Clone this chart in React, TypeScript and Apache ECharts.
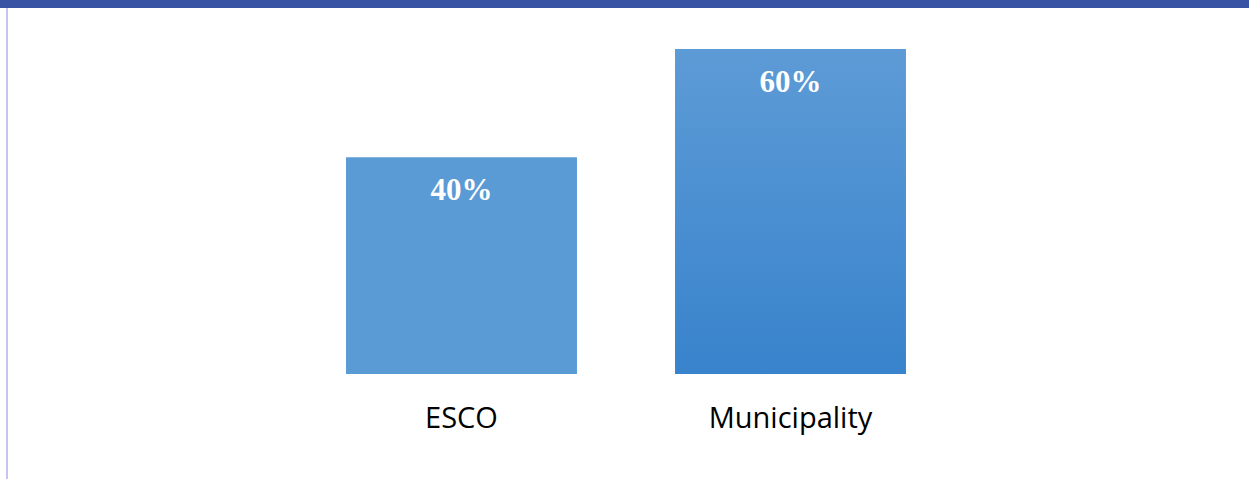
import React, { useEffect, useRef } from "react";
import * as echarts from "echarts";

const categories = ["ESCO", "Municipality"];
const values = [40, 60];

export default function App() {
  const ref = useRef<HTMLDivElement>(null);
  useEffect(() => {
    if (!ref.current) return;
    const chart = echarts.init(ref.current, null, { renderer: "svg" });
    const colors = [
      "#5b9bd5",
      new echarts.graphic.LinearGradient(0, 0, 0, 1, [
        { offset: 0, color: "#5d9bd6" },
        { offset: 1, color: "#3883cc" },
      ]),
    ];
    chart.setOption({
      animation: false,
      backgroundColor: "#ffffff",
      graphic: [
        { type: "rect", left: 0, top: 0, shape: { width: 1249, height: 8 }, style: { fill: "#3953a4" } },
        { type: "rect", left: 6, top: 8, shape: { width: 2, height: 471 }, style: { fill: "#c5c5ee" } },
      ],
      grid: { left: 297, right: 294, top: 49, bottom: 105 },
      xAxis: {
        type: "category",
        data: categories,
        axisLine: { show: false },
        axisTick: { show: false },
        axisLabel: {
          color: "#000000",
          fontSize: 29,
          fontFamily: "Open Sans",
          margin: 28,
        },
      },
      yAxis: {
        type: "value",
        min: 0,
        max: 60,
        show: false,
        splitLine: { show: false },
      },
      series: [
        {
          type: "bar",
          barWidth: "70.2%",
          data: values.map((v, i) => ({ value: v, itemStyle: { color: colors[i] } })),
          label: {
            show: true,
            position: "insideTop",
            distance: 17,
            formatter: "{c}%",
            color: "#ffffff",
            fontSize: 31,
            fontWeight: "bold",
            fontFamily: "Liberation Serif",
          },
        },
      ],
    });
    return () => chart.dispose();
  }, []);
  return (
    <div
      ref={ref}
      style={{ position: "fixed", left: 0, top: 0, width: 1249, height: 479 }}
    />
  );
}
